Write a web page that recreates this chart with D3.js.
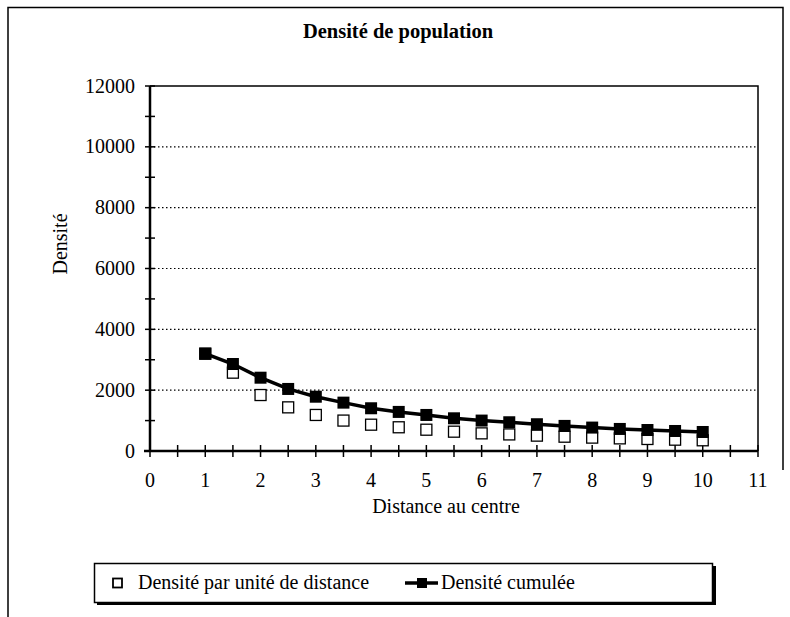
<html>
<head>
<meta charset="utf-8">
<script src="https://d3js.org/d3.v7.min.js"></script>
<style>
body { margin: 0; background: #fff; }
text { font-family: "Liberation Serif", "Times New Roman", serif; fill: #000; }
</style>
</head>
<body>
<svg id="page"></svg>
<script>
// data
var distances = [1, 1.5, 2, 2.5, 3, 3.5, 4, 4.5, 5, 5.5, 6, 6.5, 7, 7.5, 8, 8.5, 9, 9.5, 10];
var parUnite = [3200, 2575, 1840, 1435, 1185, 1000, 865, 780, 700, 635, 580, 545, 505, 470, 440, 415, 395, 372, 352];
var cumulee = [3200, 2860, 2410, 2040, 1785, 1590, 1405, 1285, 1185, 1075, 1000, 945, 880, 825, 770, 725, 690, 658, 625];
var xTicks = [0, 1, 2, 3, 4, 5, 6, 7, 8, 9, 10, 11];
var yTicks = [0, 2000, 4000, 6000, 8000, 10000, 12000];

var svg = d3.select("#page").attr("width", 790).attr("height", 617);

// outer frame (cut off in the original: right side stops early)
svg.append("path").attr("d", "M8,620V7.5H783V470")
  .attr("fill", "none").attr("stroke", "#000").attr("stroke-width", 1.5);

var pLeft = 150, pRight = 758, pTop = 86, pBottom = 451;
var x = d3.scaleLinear().domain([0, 11]).range([pLeft, pRight]);
var y = d3.scaleLinear().domain([0, 12000]).range([pBottom, pTop]);

// title
svg.append("text").attr("x", 398).attr("y", 38).attr("text-anchor", "middle")
  .style("font-size", "20.5px").style("font-weight", "bold").text("Densité de population");

// grid
svg.selectAll(".grid").data(yTicks.filter(function(d){ return d > 0 && d < 12000; }))
  .enter().append("line")
  .attr("x1", pLeft).attr("x2", pRight)
  .attr("y1", function(d){ return y(d); }).attr("y2", function(d){ return y(d); })
  .attr("stroke", "#000").attr("stroke-width", 1.2).attr("stroke-dasharray", "1.5,2.5");

// plot border top/right
svg.append("path")
  .attr("d", "M" + pLeft + "," + y(12000) + "H" + pRight + "V" + pBottom)
  .attr("fill", "none").attr("stroke", "#000").attr("stroke-width", 1.5);

// y axis
svg.append("line").attr("x1", pLeft).attr("x2", pLeft).attr("y1", pTop).attr("y2", pBottom)
  .attr("stroke", "#000").attr("stroke-width", 2.5);
svg.selectAll(".ytick").data(d3.range(0, 12001, 1000)).enter().append("line")
  .attr("x1", pLeft - 5).attr("x2", pLeft + 5)
  .attr("y1", function(d){ return y(d); }).attr("y2", function(d){ return y(d); })
  .attr("stroke", "#000").attr("stroke-width", 1.5);
svg.selectAll(".ylab").data(yTicks).enter().append("text")
  .attr("x", pLeft - 15).attr("y", function(d){ return y(d) + 6.5; })
  .attr("text-anchor", "end").style("font-size", "20px").text(function(d){ return d; });

// x axis
svg.append("line").attr("x1", pLeft - 6).attr("x2", pRight).attr("y1", pBottom).attr("y2", pBottom)
  .attr("stroke", "#000").attr("stroke-width", 2.5);
svg.selectAll(".xtick").data(d3.range(0, 11.01, 0.5)).enter().append("line")
  .attr("x1", function(d){ return x(d); }).attr("x2", function(d){ return x(d); })
  .attr("y1", pBottom - 6).attr("y2", pBottom + 6)
  .attr("stroke", "#000").attr("stroke-width", 1.5);
svg.selectAll(".xlab").data(xTicks).enter().append("text")
  .attr("x", function(d){ return x(d); }).attr("y", pBottom + 36)
  .attr("text-anchor", "middle").style("font-size", "20px").text(function(d){ return d; });

// axis titles
svg.append("text").attr("x", 446).attr("y", 513).attr("text-anchor", "middle")
  .style("font-size", "20px").text("Distance au centre");
svg.append("text").attr("transform", "translate(67,244) rotate(-90)").attr("text-anchor", "middle")
  .style("font-size", "20px").text("Densité");

// open squares
svg.selectAll(".pu").data(distances).enter().append("rect")
  .attr("x", function(d){ return x(d) - 5.5; })
  .attr("y", function(d, i){ return y(parUnite[i]) - 5.5; })
  .attr("width", 11).attr("height", 11)
  .attr("fill", "#fff").attr("stroke", "#000").attr("stroke-width", 1.3);

// cumulative line
var line = d3.line().x(function(d){ return x(d); }).y(function(d, i){ return y(cumulee[i]); });
svg.append("path").datum(distances).attr("d", line)
  .attr("fill", "none").attr("stroke", "#000").attr("stroke-width", 3.5);
svg.selectAll(".cu").data(distances).enter().append("rect")
  .attr("x", function(d){ return x(d) - 6; })
  .attr("y", function(d, i){ return y(cumulee[i]) - 6; })
  .attr("width", 12).attr("height", 12).attr("fill", "#000");

// legend
svg.append("rect").attr("x", 97).attr("y", 566).attr("width", 619).attr("height", 39).attr("fill", "#000");
svg.append("rect").attr("x", 94.5).attr("y", 563.5).attr("width", 618).attr("height", 39)
  .attr("fill", "#fff").attr("stroke", "#000").attr("stroke-width", 1.5);
svg.append("rect").attr("x", 113).attr("y", 578.5).attr("width", 9).attr("height", 9)
  .attr("fill", "#fff").attr("stroke", "#000").attr("stroke-width", 1.8);
svg.append("text").attr("x", 138).attr("y", 589).style("font-size", "20px").text("Densité par unité de distance");
svg.append("line").attr("x1", 405).attr("x2", 438).attr("y1", 583).attr("y2", 583)
  .attr("stroke", "#000").attr("stroke-width", 3.5);
svg.append("rect").attr("x", 417).attr("y", 578).attr("width", 10).attr("height", 10).attr("fill", "#000");
svg.append("text").attr("x", 441).attr("y", 589).style("font-size", "20px").text("Densité cumulée");
</script>
</body>
</html>
